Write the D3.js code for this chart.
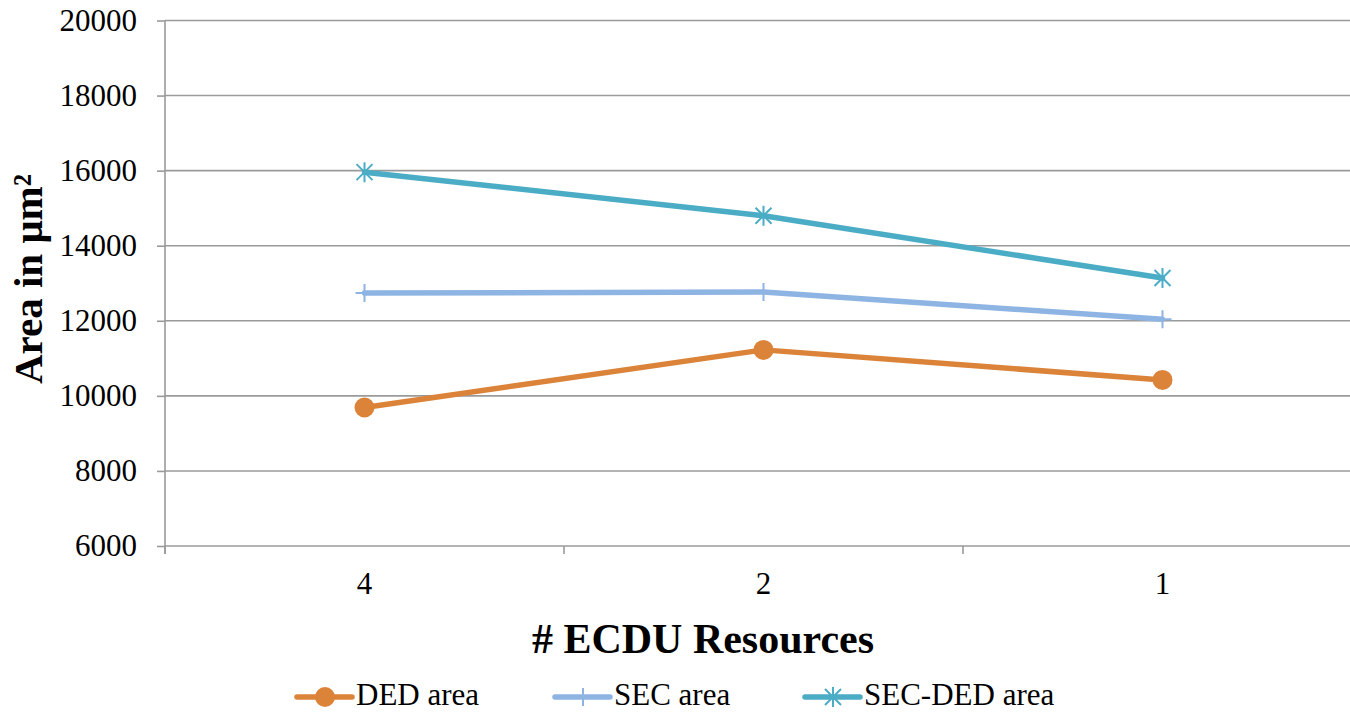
<!DOCTYPE html>
<html>
<head>
<meta charset="utf-8">
<script src="https://cdn.jsdelivr.net/npm/d3@7/dist/d3.min.js"></script>
<style>
  html, body { margin: 0; padding: 0; background: #fff; }
  svg { display: block; }
  svg text { font-family: "Liberation Serif", "Times New Roman", serif; }
</style>
</head>
<body>
<svg id="chart" width="1350" height="713"></svg>
<script>
// ECDU resource count on the x axis, area values per design
const categories = ["4", "2", "1"];
const dedArea = [9690, 11225, 10425];
const secArea = [12740, 12765, 12040];
const secDedArea = [15960, 14800, 13140];
const yTicks = [6000, 8000, 10000, 12000, 14000, 16000, 18000, 20000];

const seriesNames = ["DED area", "SEC area", "SEC-DED area"];
const seriesValues = [dedArea, secArea, secDedArea];
const seriesColors = ["#DC833A", "#8EB4E3", "#4BACC6"];
const seriesMarkers = ["circle", "plus", "star"];

const svg = d3.select("#chart");
const plotLeft = 165, plotRight = 1362, plotTop = 20.5, plotBottom = 546;

const x = d3.scaleBand().domain(categories).range([plotLeft, plotRight]);
const y = d3.scaleLinear().domain([6000, 20000]).range([plotBottom, plotTop]);
const cx = c => x(c) + x.bandwidth() / 2;

// horizontal gridlines
svg.append("g").selectAll("line").data(yTicks).join("line")
  .attr("x1", plotLeft).attr("x2", 1350)
  .attr("y1", d => y(d)).attr("y2", d => y(d))
  .attr("stroke", "#9a9a9a").attr("stroke-width", 1.6);

// y axis line with tick marks and labels
const yAxis = svg.append("g").attr("transform", `translate(${plotLeft},0)`)
  .call(d3.axisLeft(y).tickValues(yTicks).tickFormat(d3.format("d"))
    .tickSize(8).tickPadding(20).tickSizeOuter(0));
yAxis.attr("font-family", null).attr("font-size", null);
yAxis.select(".domain").attr("stroke", "#9a9a9a").attr("stroke-width", 1.6)
  .attr("d", `M0,${plotTop}V${plotBottom + 8}`);
yAxis.selectAll(".tick line").attr("stroke", "#9a9a9a").attr("stroke-width", 1.6);
yAxis.selectAll(".tick text")
  .style("font-family", "'Liberation Serif', 'Times New Roman', serif")
  .style("font-size", "31px").attr("fill", "#000").attr("dy", "0.32em");

// x axis: tick marks at category boundaries, labels centred in each band
const xBounds = categories.map(c => x(c)).concat([x(categories[categories.length - 1]) + x.bandwidth()]);
svg.append("g").selectAll("line").data(xBounds).join("line")
  .attr("x1", d => d).attr("x2", d => d)
  .attr("y1", plotBottom).attr("y2", plotBottom + 8)
  .attr("stroke", "#9a9a9a").attr("stroke-width", 1.6);
svg.append("g").selectAll("text").data(categories).join("text")
  .attr("x", d => cx(d)).attr("y", 594)
  .attr("text-anchor", "middle").style("font-size", "31px").attr("fill", "#000")
  .text(d => d);

// axis titles
svg.append("text").attr("x", 703).attr("y", 653)
  .attr("text-anchor", "middle").style("font-size", "42px").attr("font-weight", "bold")
  .text("# ECDU Resources");
svg.append("text")
  .attr("transform", "translate(42,279) rotate(-90)")
  .attr("text-anchor", "middle").style("font-size", "41px").attr("font-weight", "bold")
  .text("Area in μm²");

// marker drawing
function drawMarker(g, type, px, py, color) {
  if (type === "circle") {
    g.append("circle").attr("cx", px).attr("cy", py).attr("r", 10).attr("fill", color);
  } else if (type === "plus") {
    g.append("path").attr("d", `M${px - 9},${py}H${px + 9}M${px},${py - 9}V${py + 9}`)
      .attr("stroke", color).attr("stroke-width", 2).attr("fill", "none");
  } else {
    const r = 10, d = r * 0.8;
    g.append("path")
      .attr("d", `M${px},${py - r}V${py + r}M${px - d},${py - d}L${px + d},${py + d}M${px - d},${py + d}L${px + d},${py - d}`)
      .attr("stroke", color).attr("stroke-width", 2).attr("fill", "none");
  }
}

const line = d3.line().x((d, i) => cx(categories[i])).y(d => y(d));

seriesValues.forEach((vals, si) => {
  const g = svg.append("g");
  g.append("path").datum(vals).attr("d", line)
    .attr("fill", "none").attr("stroke", seriesColors[si])
    .attr("stroke-width", 5.5).attr("stroke-linejoin", "round").attr("stroke-linecap", "round");
  vals.forEach((v, i) => drawMarker(g, seriesMarkers[si], cx(categories[i]), y(v), seriesColors[si]));
});

// legend
const legendX = [297, 555, 805];
const legend = svg.append("g");
seriesNames.forEach((name, si) => {
  const lx = legendX[si], ly = 697;
  legend.append("line").attr("x1", lx).attr("x2", lx + 55).attr("y1", ly).attr("y2", ly)
    .attr("stroke", seriesColors[si]).attr("stroke-width", 5.5).attr("stroke-linecap", "round");
  drawMarker(legend, seriesMarkers[si], lx + 28, ly, seriesColors[si]);
  legend.append("text").attr("x", lx + 59).attr("y", 705)
    .style("font-size", "31px").attr("fill", "#000").text(name);
});
</script>
</body>
</html>
